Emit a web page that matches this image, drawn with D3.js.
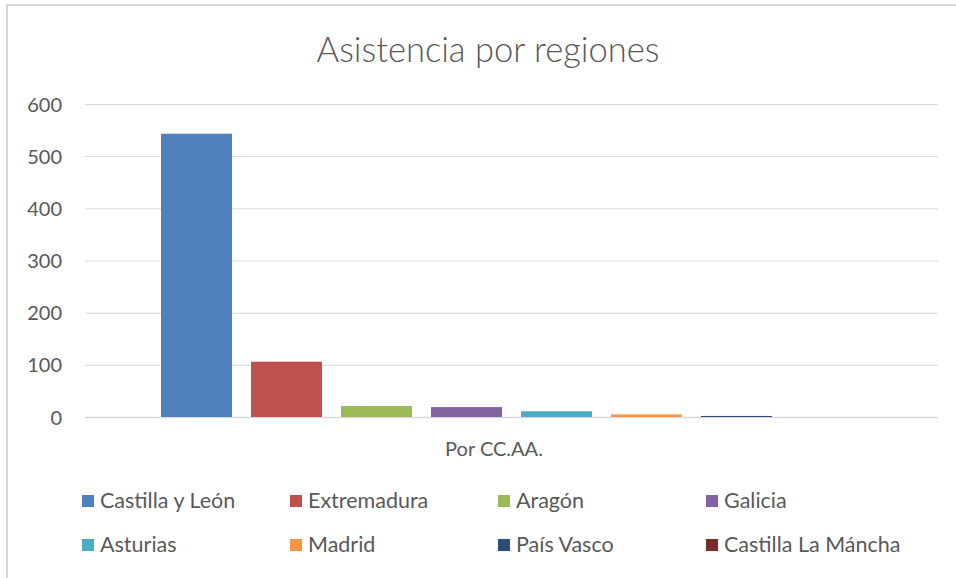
<!DOCTYPE html>
<html>
<head>
<meta charset="utf-8">
<script src="https://cdn.jsdelivr.net/npm/d3@7"></script>
<style>
  body { margin: 0; background: #fff; }
  svg { display: block; font-family: Lato, "Open Sans", sans-serif; }
</style>
</head>
<body>
<svg></svg>
<script>
// chart data
const regions = ['Castilla y León', 'Extremadura', 'Aragón', 'Galicia', 'Asturias', 'Madrid', 'País Vasco', 'Castilla La Máncha'];
const asistentes = [543, 106, 21, 19, 11, 5, 2, 0];
const colores = ['#4F81BD', '#C0504D', '#9BBB59', '#8064A2', '#4BACC6', '#F79646', '#2C4D75', '#772C2A'];
const yTicks = [0, 100, 200, 300, 400, 500, 600];
const categoria = 'Por CC.AA.';
const titulo = 'Asistencia por regiones';

const WIDTH = 956, HEIGHT = 578;

let svg = d3.select('svg')
    .attr('width', WIDTH)
    .attr('height', HEIGHT);

// chart area border (only left/top visible)
svg.append('path')
    .attr('d', `M7,${HEIGHT} V5 H${WIDTH}`)
    .attr('fill', 'none')
    .attr('stroke', '#d9d9d9')
    .attr('stroke-width', 2);

let y = d3.scaleLinear()
    .domain([0, 600])
    .range([417, 104]);

let x = d3.scaleBand()
    .domain(regions)
    .range([161, 862])
    .paddingInner(19 / 90)
    .paddingOuter(0);

const plotLeft = 85, plotRight = 938;

// gridlines
svg.append('g')
    .classed('grid', true)
    .selectAll('line')
    .data(yTicks)
    .enter()
    .append('line')
        .attr('x1', plotLeft)
        .attr('x2', plotRight)
        .attr('y1', (d) => y(d) + 0.5)
        .attr('y2', (d) => y(d) + 0.5)
        .attr('stroke', '#d9d9d9')
        .attr('stroke-width', (d) => d === 0 ? 1.5 : 1);

// y axis labels
let yAxis = svg.append('g')
    .attr('transform', `translate(${plotLeft - 23},0)`)
    .call(d3.axisLeft(y).tickValues(yTicks).tickSize(0).tickPadding(0));
yAxis.select('.domain').remove();
yAxis.selectAll('text')
    .attr('font-family', 'Lato, "Open Sans", sans-serif')
    .attr('font-size', 20)
    .attr('fill', '#595959')
    .attr('dy', '0.35em');

// bars
svg.append('g')
    .classed('bars', true)
    .selectAll('rect')
    .data(regions)
    .enter()
    .append('rect')
        .attr('x', (d) => x(d))
        .attr('width', x.bandwidth())
        .attr('y', (d, i) => y(asistentes[i]))
        .attr('height', (d, i) => y(0) - y(asistentes[i]))
        .attr('fill', (d, i) => colores[i]);

// title
svg.append('text')
    .attr('x', 488)
    .attr('y', 62)
    .attr('text-anchor', 'middle')
    .attr('font-size', 34.5)
    .attr('font-weight', 300)
    .attr('fill', '#595959')
    .text(titulo);

// category label
svg.append('text')
    .attr('x', 494)
    .attr('y', 456)
    .attr('text-anchor', 'middle')
    .attr('font-size', 20)
    .attr('fill', '#595959')
    .text(categoria);

// legend: 4 columns x 2 rows
let legend = svg.append('g')
    .classed('legend', true)
    .selectAll('g')
    .data(regions)
    .enter()
    .append('g')
        .attr('transform', (d, i) => `translate(${82 + (i % 4) * 208},${495 + Math.floor(i / 4) * 44})`);
legend.append('rect')
    .attr('width', 12)
    .attr('height', 12)
    .attr('fill', (d, i) => colores[i]);
legend.append('text')
    .attr('x', 18)
    .attr('y', 13)
    .attr('font-size', 21.5)
    .attr('fill', '#595959')
    .text((d) => d);
</script>
</body>
</html>
